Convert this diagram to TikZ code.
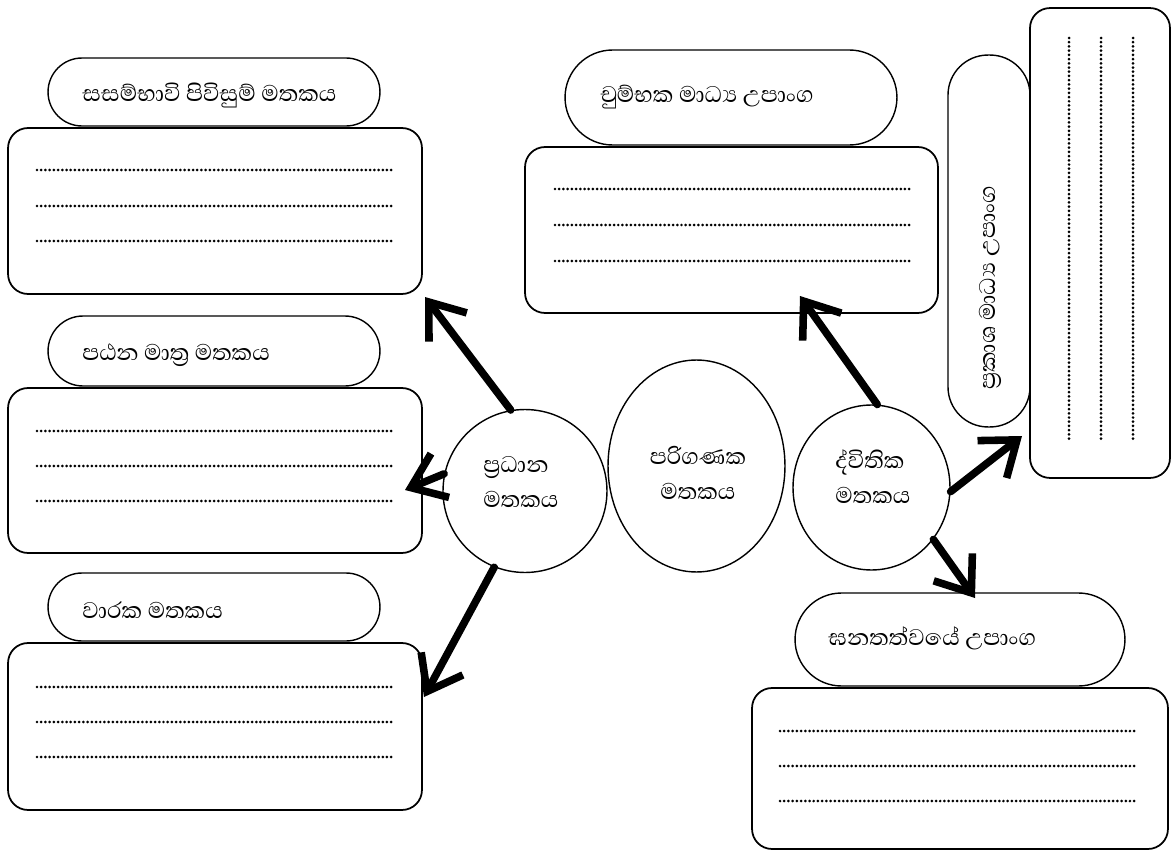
\documentclass[tikz,border=0pt]{standalone}
\usepackage{fontspec}
\newfontfamily\sinfont[Script=Sinhala]{Abhaya Libre}
\usetikzlibrary{shapes.misc,shapes.geometric,arrows.meta,calc}
\begin{document}
\begin{tikzpicture}[x=0.02cm,y=-0.02cm,
  box/.style={draw, line width=1pt, rounded corners=0.4cm, inner sep=0, rectangle},
  pill/.style={draw, rounded rectangle, line width=0.8pt, inner sep=0},
  vpill/.style={draw, rectangle, rounded corners=0.8cm, line width=0.8pt, inner sep=0},
  circ/.style={draw, ellipse, line width=0.8pt, inner sep=0},
  lbl/.style={font=\sinfont\fontsize{16.5}{20}\selectfont, anchor=west, inner sep=0},
  dots/.style={line width=1.7pt, dash pattern=on 0pt off 2.4pt, line cap=round},
  arr/.style={line width=4.3pt, line cap=round, -{Straight Barb[length=18pt,width=27pt]}}]
\path[use as bounding box, fill=white] (0,0) rectangle (1171,852);

% left column
\node[pill, minimum width=6.64cm, minimum height=1.36cm] (p1) at (214,92) {};
\node[lbl] (l1) at (82,95) {සසම්භාවි පිවිසුම් මතකය};
\node[box, minimum width=8.28cm, minimum height=3.32cm] (b1) at (215,211) {};
\node[pill, minimum width=6.64cm, minimum height=1.4cm] (p2) at (214,351) {};
\node[lbl] (l2) at (82,355) {පඨන මාත්‍ර මතකය};
\node[box, minimum width=8.28cm, minimum height=3.3cm] (b2) at (215,470.5) {};
\node[pill, minimum width=6.64cm, minimum height=1.36cm] (p3) at (214,607) {};
\node[lbl] (l3) at (82,610) {වාරක මතකය};
\node[box, minimum width=8.28cm, minimum height=3.34cm] (b3) at (215,726.5) {};

% top middle
\node[pill, minimum width=6.64cm, minimum height=1.9cm] (pt) at (731,97.5) {};
\node[lbl] (lt) at (600,97) {චුම්භක මාධ්‍ය උපාංග};
\node[box, minimum width=8.26cm, minimum height=3.32cm] (bt) at (731.5,230) {};

% right vertical
\node[vpill, minimum width=1.64cm, minimum height=7.44cm] (pv) at (989,241) {};
\node[lbl, rotate=90] (lv) at (990,390) {ප්‍රකාශ මාධ්‍ය උපාංග};
\node[box, minimum width=2.8cm, minimum height=9.4cm] (bv) at (1100,243) {};

% bottom right
\node[pill, minimum width=6.6cm, minimum height=1.86cm] (pr) at (960,639.5) {};
\node[lbl] (lr) at (828,638) {ඝනතත්වයේ උපාංග};
\node[box, minimum width=8.32cm, minimum height=3.22cm] (br) at (960,768.5) {};

% circles
\node[circ, minimum width=3.28cm, minimum height=3.26cm] (cm) at (525,491) {};
\node[lbl, align=left] (lm) at (483,482) {ප්‍රධාන\\මතකය};
\node[circ, minimum width=3.54cm, minimum height=4.24cm] (cc) at (696.5,466) {};
\node[lbl, anchor=center, align=center] (lc) at (698,473) {පරිගණක\\මතකය};
\node[circ, minimum width=3.14cm, minimum height=3.3cm] (cs) at (871.5,487.5) {};
\node[lbl, align=left] (ls) at (835,477) {ද්විතික\\මතකය};

% dotted lines
\foreach \y in {170,206,241,431,466,501,687,722,757}
  \draw[dots] (37,\y) -- (393,\y);
\foreach \y in {189,225,261}
  \draw[dots] (555,\y) -- (912,\y);
\foreach \y in {731,766,801}
  \draw[dots] (780,\y) -- (1138,\y);
\foreach \x in {1069,1101,1133}
  \draw[dots] (\x,38) -- (\x,442);

% arrow tips
\coordinate (t1) at (425,297);
\coordinate (t2) at (405,490);
\coordinate (t3) at (424,697);
\coordinate (t4) at (800,296);
\coordinate (t5) at (1022,436);
\coordinate (t6) at (975,598);

\draw[arr] (cm.100) -- (t1);
\draw[arr] (cm.168) -- (t2);
\draw[arr] (cm.248) -- (t3);
\draw[arr] (cs.86) -- (t4);
\draw[arr] (cs.-3) -- (t5);
\draw[arr] (cs.-40) -- (t6);
\end{tikzpicture}
\end{document}
